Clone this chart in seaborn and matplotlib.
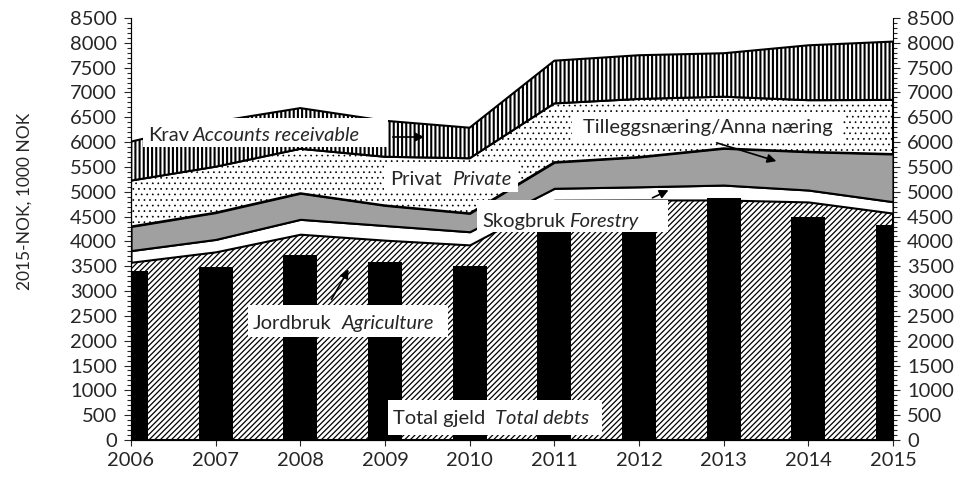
import numpy as np
import pandas as pd
import matplotlib.pyplot as plt
import seaborn as sns
from matplotlib.patches import Rectangle, FancyArrowPatch
from matplotlib.ticker import MultipleLocator

years = [2006, 2007, 2008, 2009, 2010, 2011, 2012, 2013, 2014, 2015]
# stacked layers, bottom to top (1000 NOK)
agriculture = [3580, 3790, 4145, 4025, 3930, 4830, 4835, 4835, 4795, 4570]
forestry = [235, 250, 300, 295, 265, 240, 265, 300, 240, 230]
extra_business = [485, 540, 525, 405, 370, 525, 600, 740, 770, 960]
private = [925, 925, 895, 980, 1110, 1185, 1170, 1040, 1040, 1090]
receivable = [785, 905, 820, 725, 615, 860, 880, 875, 1105, 1175]
total_debts = [3410, 3480, 3725, 3590, 3505, 4450, 4550, 4875, 4500, 4330]
y_ticks = list(range(0, 8501, 500))

sns.set_style("ticks")
plt.rcParams['font.family'] = ['Lato', 'DejaVu Sans']
plt.rcParams['hatch.linewidth'] = 1.0
plt.rcParams['axes.edgecolor'] = 'black'
FS = 14.5

W, H = 961, 480
fig = plt.figure(figsize=(W / 100, H / 100), dpi=100)
ax = fig.add_axes([131 / W, 40 / H, 762 / W, 422 / H])

layers = [(agriculture, 'white', '//////', 0.9),
          (forestry, 'white', None, 1.0),
          (extra_business, '#a0a0a0', None, 1.0),
          (private, 'white', '...', 0.5),
          (receivable, 'white', '||||', 1.5)]
base = np.zeros(len(years))
for vals, fc, hatch, hlw in layers:
    top = base + np.array(vals)
    poly = ax.fill_between(years, base, top, facecolor=fc, edgecolor='black',
                           hatch=hatch, linewidth=1.5, zorder=1)
    if hatch and hasattr(poly, 'set_hatch_linewidth'):
        poly.set_hatch_linewidth(hlw)
    base = top

df = pd.DataFrame({'year': years, 'total': total_debts})
sns.barplot(data=df, x='year', y='total', native_scale=True, width=0.4,
            color='black', saturation=1, errorbar=None, linewidth=0,
            zorder=3, ax=ax)

ax.set_xlim(2006, 2015)
ax.set_ylim(0, 8500)
ax.set_xticks(years)
ax.set_xticklabels([str(y) for y in years])
ax.set_yticks(y_ticks)
ax.yaxis.set_minor_locator(MultipleLocator(100))
ax.set_xlabel('')
ax.set_ylabel('')
ax.spines['top'].set_visible(False)
ax.spines['right'].set_visible(False)
ax.tick_params(axis='y', which='major', length=5, width=0.8, labelsize=FS, pad=5)
ax.tick_params(axis='y', which='minor', length=3, width=0.8)
ax.tick_params(axis='x', length=4, width=0.8, labelsize=FS, pad=5)

ax2 = ax.twinx()
ax2.set_ylim(0, 8500)
ax2.set_yticks(y_ticks)
ax2.yaxis.set_minor_locator(MultipleLocator(100))
ax2.spines['top'].set_visible(False)
ax2.tick_params(axis='y', which='major', length=5, width=0.8, labelsize=FS, pad=5)
ax2.tick_params(axis='y', which='minor', length=3, width=0.8)
for a in (ax, ax2):
    for s in a.spines.values():
        s.set_linewidth(0.8)


def px(x, y):
    return x / W, 1 - y / H


def label(box, parts, arrow=None):
    x0, y0, x1, y1 = box
    fig.add_artist(Rectangle(px(x0, y1), (x1 - x0) / W, (y1 - y0) / H,
                             transform=fig.transFigure, facecolor='white',
                             edgecolor='none', zorder=5))
    for x, y, s, style in parts:
        fig.text(*px(x, y), s, style=style, fontsize=FS, ha='left',
                 va='baseline', zorder=6)
    if arrow:
        (ax0, ay0), (ax1, ay1) = arrow
        fig.add_artist(FancyArrowPatch(px(ax0, ay0), px(ax1, ay1),
                                       transform=fig.transFigure,
                                       arrowstyle='-|>', mutation_scale=13,
                                       color='black', lw=1.2, zorder=7))


label((143, 118, 388, 147),
      [(148, 141, 'Krav', 'normal'), (193, 141, 'Accounts receivable', 'italic')],
      ((390, 137), (427, 137)))
label((384, 163, 518, 192),
      [(390, 185, 'Privat', 'normal'), (452, 185, 'Private', 'italic')])
label((572, 114, 843, 143),
      [(583, 133, 'Tilleggsnæring/Anna næring', 'normal')],
      ((714, 142), (779, 162)))
label((477, 200, 668, 232),
      [(482, 227, 'Skogbruk', 'normal'), (569, 227, 'Forestry', 'italic')],
      ((650, 199), (671, 189)))
label((248, 305, 448, 337),
      [(253, 329, 'Jordbruk', 'normal'), (342, 329, 'Agriculture', 'italic')],
      ((330, 302), (350, 267)))
label((388, 400, 602, 435),
      [(393, 424, 'Total gjeld', 'normal'), (495, 424, 'Total debts', 'italic')])

fig.text(25 / W, 1 - 201 / H, '2015-NOK, 1000 NOK', rotation=90,
         ha='center', va='center', fontsize=12.5)

fig.savefig('out.png', dpi=100)
